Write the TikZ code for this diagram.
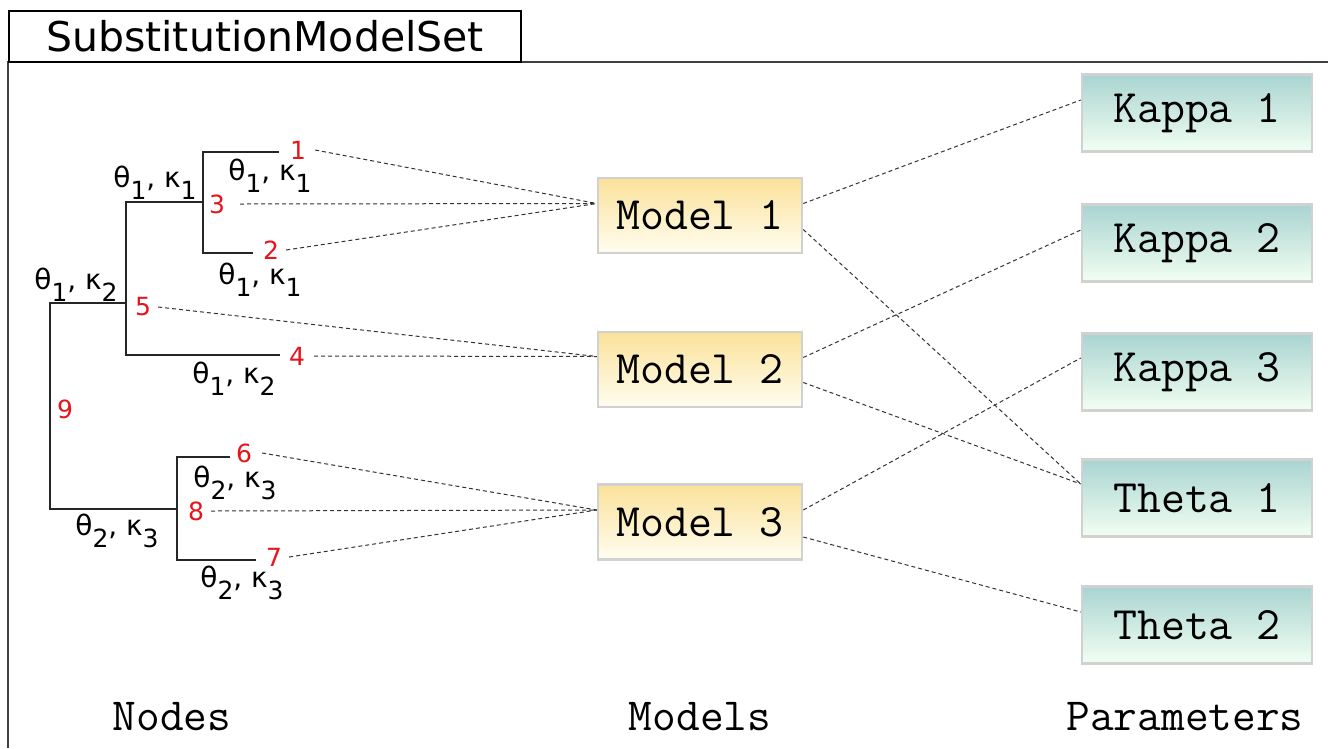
\documentclass[tikz,border=0pt]{standalone}
\usepackage{fontspec}
\setmainfont{DejaVu Sans}
\definecolor{modtop}{HTML}{FBE29A}
\definecolor{modbot}{HTML}{FFFDF0}
\definecolor{partop}{HTML}{A9D4D1}
\definecolor{parbot}{HTML}{F2FFF2}
\definecolor{numred}{HTML}{E8141B}
\newcommand\sbx[1]{\lower12pt\hbox{\fontsize{25}{25}\selectfont #1}}
\newcommand\tk[2]{θ\sbx{#1}, κ\sbx{#2}}
\begin{document}
\begin{tikzpicture}[x=1pt,y=-1pt,
  branch/.style={line width=1.5pt, black!85, line cap=rect},
  link/.style={line width=1pt, black!80, dash pattern=on 4pt off 3pt},
  num/.style={text=numred, font=\fontsize{25}{25}\selectfont, inner sep=0pt},
  lab/.style={font=\fontsize{28}{28}\selectfont, inner sep=0pt},
  box/.style={minimum height=75pt, inner sep=0pt, font=\ttfamily\fontsize{46.5}{46.5}\selectfont,
    draw=black!18, line width=2.5pt},
  modelbox/.style={box, minimum width=204pt, top color=modtop, bottom color=modbot},
  parambox/.style={box, minimum width=230pt, minimum height=77pt, top color=partop, bottom color=parbot},
  caption/.style={font=\ttfamily\fontsize{46}{46}\selectfont, inner sep=0pt}
]
\useasboundingbox[fill=white] (0,0) rectangle (1328,748);
% frame
\draw[line width=1.5pt, black!75] (8,748) -- (8,62) -- (1328,62);
\node[draw, line width=1.5pt, minimum width=512pt, minimum height=51pt, inner sep=0pt,
  font=\fontsize{41}{41}\selectfont] (title) at (265,36.5) {SubstitutionModelSet};
% tree
\draw[branch] (278,152) -- (203,152) -- (203,253) -- (252,253);
\draw[branch] (203,202) -- (126,202) -- (126,355) -- (279,355);
\draw[branch] (126,303) -- (50,303) -- (50,509) -- (177,509);
\draw[branch] (229,457) -- (177,457) -- (177,560) -- (255,560);
% node numbers
\node[num] (n1) at (298,150) {1};
\node[num] (n3) at (217,204) {3};
\node[num] (n2) at (271,250) {2};
\node[num] (n5) at (143,307) {5};
\node[num] (n4) at (297,356) {4};
\node[num] (n9) at (65,409) {9};
\node[num] (n6) at (244,453) {6};
\node[num] (n8) at (196,511) {8};
\node[num] (n7) at (274,557) {7};
% branch labels
\node[lab] (l1) at (155,183) {\tk{1}{1}};
\node[lab] (l2) at (270,176) {\tk{1}{1}};
\node[lab] (l3) at (260,280) {\tk{1}{1}};
\node[lab] (l4) at (76,285) {\tk{1}{2}};
\node[lab] (l5) at (234,379) {\tk{1}{2}};
\node[lab] (l6) at (235,483) {\tk{2}{3}};
\node[lab] (l7) at (117,531) {\tk{2}{3}};
\node[lab] (l8) at (242,583) {\tk{2}{3}};
% models
\node[modelbox] (m1) at (700,215.5) {Model 1};
\node[modelbox] (m2) at (700,369.5) {Model 2};
\node[modelbox] (m3) at (700,522) {Model 3};
% parameters
\node[parambox] (k1) at (1197,113) {Kappa 1};
\node[parambox] (k2) at (1197,243) {Kappa 2};
\node[parambox] (k3) at (1197,372) {Kappa 3};
\node[parambox] (t1) at (1197,498) {Theta 1};
\node[parambox] (t2) at (1197,625) {Theta 2};
% connection points
\coordinate (m1l) at ([yshift=12pt]m1.west);
\coordinate (m2l) at ([yshift=13pt]m2.west);
\coordinate (m3l) at ([yshift=12pt]m3.west);
\coordinate (m1a) at ([yshift=12pt]m1.east);
\coordinate (m1b) at ([yshift=-14pt]m1.east);
\coordinate (m2a) at ([yshift=12pt]m2.east);
\coordinate (m2b) at ([yshift=-13pt]m2.east);
\coordinate (m3a) at ([yshift=12pt]m3.east);
\coordinate (m3b) at ([yshift=-15pt]m3.east);
\coordinate (k1p) at ([yshift=13pt]k1.west);
\coordinate (k2p) at ([yshift=13pt]k2.west);
\coordinate (k3p) at ([yshift=14pt]k3.west);
\coordinate (t1p) at ([yshift=14pt]t1.west);
\coordinate (t2p) at ([yshift=13pt]t2.west);
% links
\draw[link] ([xshift=9pt]n1.east) -- (m1l);
\draw[link] ([xshift=15pt]n3.east) -- (m1l);
\draw[link] ([xshift=7pt]n2.east) -- (m1l);
\draw[link] ([xshift=7pt]n5.east) -- (m2l);
\draw[link] ([xshift=9pt]n4.east) -- (m2l);
\draw[link] ([xshift=10pt]n6.east) -- (m3l);
\draw[link] ([xshift=7pt]n8.east) -- (m3l);
\draw[link] ([xshift=7pt]n7.east) -- (m3l);
\draw[link] (m1a) -- (k1p);
\draw[link] (m1b) -- (t1p);
\draw[link] (m2a) -- (k2p);
\draw[link] (m2b) -- (t1p);
\draw[link] (m3a) -- (k3p);
\draw[link] (m3b) -- (t2p);
% captions
\node[caption] (cn) at (172,717) {Nodes};
\node[caption] (cm) at (700,717) {Models};
\node[caption] (cp) at (1185,717) {Parameters};
\end{tikzpicture}
\end{document}
